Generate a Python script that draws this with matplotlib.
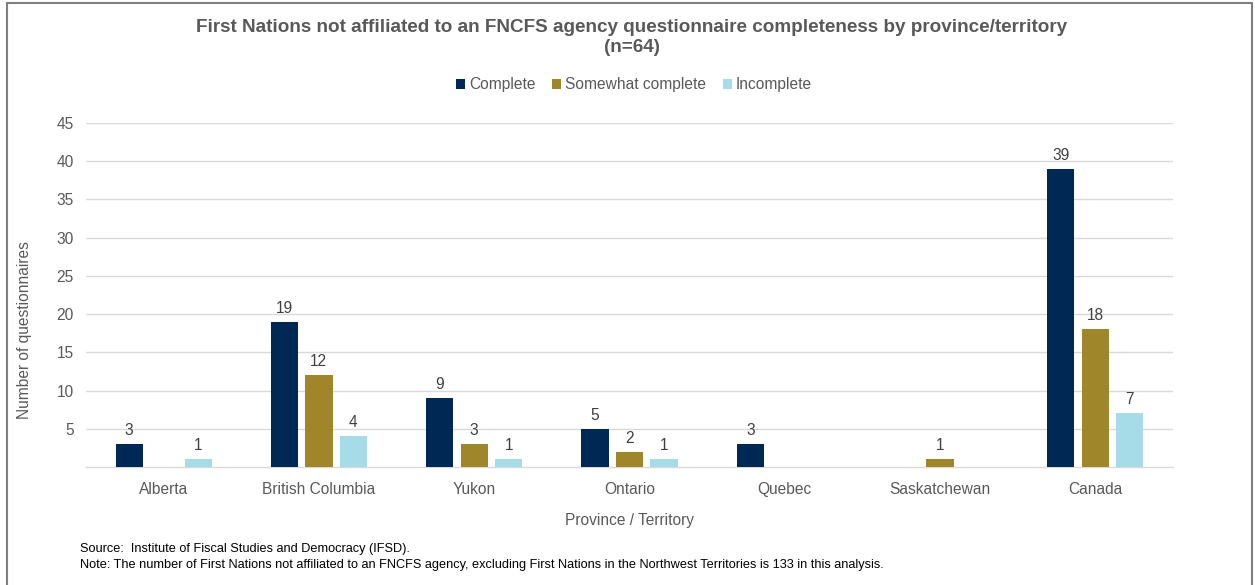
import numpy as np
import matplotlib
matplotlib.use('Agg')
import matplotlib.pyplot as plt
from matplotlib.patches import Rectangle

plt.rcParams['font.family'] = ['Liberation Sans', 'DejaVu Sans']

provinces = ['Alberta', 'British Columbia', 'Yukon', 'Ontario', 'Quebec', 'Saskatchewan', 'Canada']
complete = [3, 19, 9, 5, 3, 0, 39]
somewhat = [0, 12, 3, 2, 0, 1, 18]
incomplete = [1, 4, 1, 1, 0, 0, 7]
series_names = ['Complete', 'Somewhat complete', 'Incomplete']
colors = ['#002855', '#A0862A', '#A6DCE8']
yticks = [5, 10, 15, 20, 25, 30, 35, 40, 45]

text_grey = '#595959'
fs = 11.2

fig = plt.figure(figsize=(12.55, 5.85), dpi=100)
ax = fig.add_axes([86 / 1255, 1 - 467 / 585, (1173 - 86) / 1255, (467 - 123) / 585])

x = np.arange(len(provinces))
width = 0.175
step = 0.222
for i, (vals, name, c) in enumerate(zip([complete, somewhat, incomplete], series_names, colors)):
    bars = ax.bar(x + (i - 1) * step, vals, width, color=c, label=name, zorder=3)
    for b, v in zip(bars, vals):
        if v > 0:
            ax.text(b.get_x() + b.get_width() / 2, v + 0.8, str(v), ha='center', va='bottom',
                    fontsize=fs, color='#404040')

ax.set_xlim(-0.5, len(provinces) - 0.5)
ax.set_ylim(0, 45)
ax.set_yticks(yticks)
ax.set_xticks(x)
ax.set_xticklabels(provinces)
ax.tick_params(axis='both', length=0, labelsize=fs, colors=text_grey)
ax.tick_params(axis='y', pad=9)
ax.tick_params(axis='x', pad=11)
ax.grid(axis='y', color='#D9D9D9', linewidth=1, zorder=0)
for s in ['top', 'right', 'left']:
    ax.spines[s].set_visible(False)
ax.spines['bottom'].set_color('#D9D9D9')
ax.spines['bottom'].set_linewidth(1)

ax.set_xlabel('Province / Territory', fontsize=fs, color=text_grey, labelpad=11)
fig.text(25 / 1255, 1 - 330 / 585, 'Number of questionnaires', rotation=90, ha='center', va='center',
         fontsize=fs, color=text_grey)

fig.text(632 / 1255, 1 - 27 / 585, 'First Nations not affiliated to an FNCFS agency questionnaire completeness by province/territory',
         ha='center', va='center', fontsize=13.6, fontweight='bold', color=text_grey)
fig.text(632 / 1255, 1 - 48 / 585, '(n=64)', ha='center', va='center', fontsize=13.6,
         fontweight='bold', color=text_grey)

fig.legend(loc='center', bbox_to_anchor=(634 / 1255, 1 - 85 / 585), ncol=3, frameon=False,
           fontsize=fs, labelcolor=text_grey, handlelength=0.55, handleheight=0.55,
           handletextpad=0.25, columnspacing=1.1)

fig.text(80 / 1255, 1 - 549 / 585, 'Source:  Institute of Fiscal Studies and Democracy (IFSD).',
         ha='left', va='center', fontsize=9.2, color='black')
fig.text(80 / 1255, 1 - 565 / 585,
         'Note: The number of First Nations not affiliated to an FNCFS agency, excluding First Nations in the Northwest Territories is 133 in this analysis.',
         ha='left', va='center', fontsize=9.2, color='black')

fig.patches.append(Rectangle((7 / 1255, -0.05), (1252 - 7) / 1255, 1.05 - 3 / 585, transform=fig.transFigure,
                             fill=False, edgecolor='#7F7F7F', linewidth=1.5))

fig.savefig('out.png', dpi=100)
